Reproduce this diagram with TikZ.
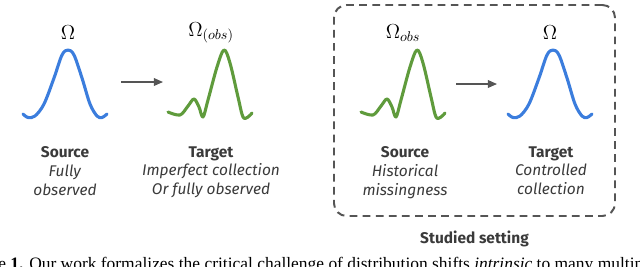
\documentclass[tikz,border=0pt]{standalone}
\usepackage{fontspec}
\setsansfont{Fira Sans}
\newfontfamily\capfont{Liberation Serif}
\usetikzlibrary{arrows.meta, positioning, calc, fit}
\definecolor{curveblue}{HTML}{3B7DDD}
\definecolor{curvegreen}{HTML}{5F9B3C}
\definecolor{inkgray}{HTML}{3A3A3A}
\definecolor{framegray}{HTML}{555555}
\tikzset{
  dist/.style={line width=2.2pt, line cap=round, line join=round},
  omega/.style={font=\Large, inner sep=0pt},
  desc/.style={font=\sffamily\fontsize{11}{13.5}\selectfont, text=inkgray, align=center, anchor=north, inner sep=0pt},
  flow/.style={-{Triangle[length=6.5pt, width=5.5pt]}, line width=0.9pt, color=framegray},
  studybox/.style={draw=framegray, line width=1.4pt, dash pattern=on 5.5pt off 3.8pt, rounded corners=9pt, inner sep=0pt},
  bell/.pic={
    \draw[dist] plot[smooth, tension=0.55] coordinates {(-45,-4) (-40,-0.5) (-33,-2) (-24,-14) (-14,-40) (-6,-63) (0,-68) (6,-63) (14,-40) (22,-14) (29,-2) (34,-0.5) (39,-4)};
    \coordinate (-west) at (-45,-35);
    \coordinate (-east) at (39,-35);
  },
  spiky/.pic={
    \draw[dist] plot[smooth, tension=0.55] coordinates {(-56,-6) (-44,-3) (-36,-12) (-30,-19) (-25,-11) (-21,-1) (-16,-18) (-7,-51) (0,-68) (6,-55) (14,-21) (19,-1) (24,-1) (28,-5)};
    \coordinate (-west) at (-56,-35);
    \coordinate (-east) at (28,-35);
  },
}
\begin{document}
\begin{tikzpicture}[x=0.025cm, y=-0.025cm]
  \useasboundingbox (0,0) rectangle (640,266);
  % general shift: source and target
  \pic[curveblue] (srcA) at (68,118) {bell};
  \pic[curvegreen] (tgtA) at (224,118) {spiky};
  \node[omega] (omSrcA) at (68,33) {$\Omega$};
  \node[omega] (omTgtA) at (211,33) {$\Omega_{(obs)}$};
  \draw[flow] ($(srcA-east)+(14,-1)$) -- ($(tgtA-west)+(-5,-1)$);
  \node[desc] (txtSrcA) at (65,146) {\textbf{Source}\\\textit{Fully}\\\textit{observed}};
  \node[desc] (txtTgtA) at (211,146) {\textbf{Target}\\\textit{Imperfect collection}\\\textit{Or fully observed}};

  % studied setting
  \pic[curvegreen] (srcB) at (417,118) {spiky};
  \pic[curveblue] (tgtB) at (553,118) {bell};
  \node[omega] (omSrcB) at (403,33) {$\Omega_{obs}$};
  \node[omega] (omTgtB) at (550,33) {$\Omega$};
  \draw[flow] ($(srcB-east)+(11,1)$) -- ($(tgtB-west)+(-11,1)$);
  \node[desc] (txtSrcB) at (405,146) {\textbf{Source}\\\textit{Historical}\\\textit{missingness}};
  \node[desc] (txtTgtB) at (551,146) {\textbf{Target}\\\textit{Controlled}\\\textit{collection}};
  \node[studybox, fit={(334,5) (615,216)}] (setting) {};
  \node[desc, below=10pt of setting] (studied) {\textbf{Studied setting}};

  % caption, cut off by the page
  \node[anchor=base west, inner sep=0pt, font=\capfont\fontsize{12.4}{14}\selectfont] (cap) at (-2,269.5)
    {e \textbf{1.} Our work formalizes the critical challenge of distribution shifts \textit{intrinsic} to many multimodal};
\end{tikzpicture}
\end{document}
